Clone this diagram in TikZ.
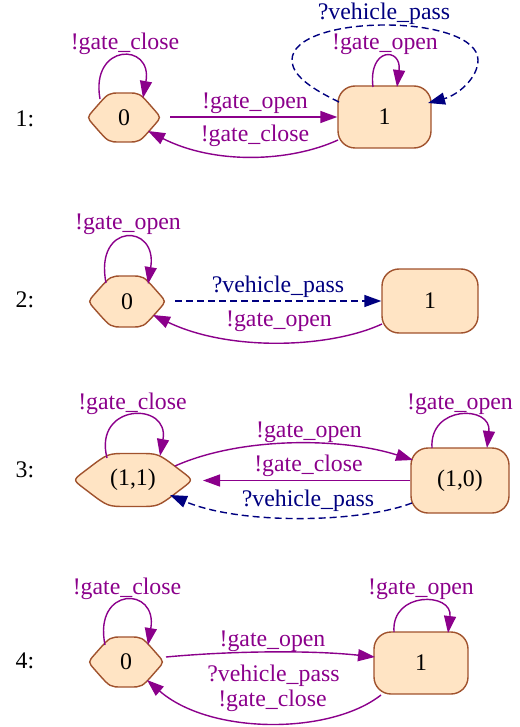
\documentclass[tikz,border=0pt]{standalone}
\usepackage{fontspec}
\setmainfont{Liberation Serif}
\usetikzlibrary{arrows.meta,calc}
\definecolor{epurple}{RGB}{139,0,139}
\definecolor{enavy}{RGB}{0,0,128}
\definecolor{sfill}{RGB}{255,228,196}
\definecolor{sline}{RGB}{160,82,45}
\tikzset{
  every node/.style={font=\fontsize{23.8}{28}\selectfont},
  lbl/.style={inner sep=0pt, anchor=center},
  plbl/.style={lbl, text=epurple},
  nlbl/.style={lbl, text=enavy},
  pe/.style={draw=epurple, line width=1.4pt, -{Triangle[length=17pt,width=12pt]}},
  ne/.style={draw=enavy, line width=1.4pt, dash pattern=on 7pt off 4pt, -{Triangle[length=17pt,width=12pt]}},
  hexfill/.style={fill=sfill, draw=sline, line width=1.4pt},
  boxstate/.style={rectangle, rounded corners=17pt, fill=sfill, draw=sline, line width=1.4pt, inner sep=0pt},
  hexname/.style={rectangle, inner sep=0pt}
}
% #1 name, #2 x, #3 y, #4 half width, #5 half height, #6 text
\newcommand\hexstate[6]{%
  \filldraw[hexfill] (#2,#3-#5) -- (#2+0.1*#4,#3-#5)
    .. controls (#2+0.42*#4,#3-#5) .. (#2+0.739*#4,#3-0.45*#5)
    -- (#2+0.826*#4,#3-0.3*#5) .. controls (#2+#4,#3) .. (#2+0.826*#4,#3+0.3*#5)
    -- (#2+0.739*#4,#3+0.45*#5) .. controls (#2+0.42*#4,#3+#5) .. (#2+0.1*#4,#3+#5)
    -- (#2-0.1*#4,#3+#5) .. controls (#2-0.42*#4,#3+#5) .. (#2-0.739*#4,#3+0.45*#5)
    -- (#2-0.826*#4,#3+0.3*#5) .. controls (#2-#4,#3) .. (#2-0.826*#4,#3-0.3*#5)
    -- (#2-0.739*#4,#3-0.45*#5) .. controls (#2-0.42*#4,#3-#5) .. (#2-0.1*#4,#3-#5)
    -- cycle;
  \node[hexname, minimum width=2*#4, minimum height=2*#5] (#1) at (#2,#3) {#6};}
\begin{document}
\begin{tikzpicture}[x=1pt,y=-1pt]
\useasboundingbox (0,0) rectangle (519,727);
% row labels
\node[lbl] (r1) at (25,119) {1:};
\node[lbl] (r2) at (25,300) {2:};
\node[lbl] (r3) at (25,470) {3:};
\node[lbl] (r4) at (25,661) {4:};
% ---------- panel 1
\hexstate{a0}{124}{117.5}{37}{24.5}{0}
\node[boxstate, minimum width=93, minimum height=62] (b1) at (384.5,117) {1};
\draw[pe] ($(a0)+(-24,-18.5)$) .. controls +(-10,-56) and +(10,-56) .. ($(a0)+(19,-19.5)$);
\draw[pe] ($(a0)+(46,-0.5)$) -- (b1.west);
\draw[pe] ($(b1)+(-46.5,23)$) .. controls +(-48,22) and +(67,34) .. ($(a0)+(24,13.5)$);
\draw[pe] ($(b1)+(-11.5,-30)$) .. controls +(-5,-40) and +(5,-40) .. ($(b1)+(12.5,-30)$);
\draw[ne] ($(b1)+(-45.5,-15)$) .. controls (310,88) and (292,75) .. (292,60)
   .. controls (292,38) and (335,25) .. (385,25)
   .. controls (435,25) and (478,38) .. (478,60)
   .. controls (478,78) and (458,95) .. ($(b1)+(43.5,-14)$);
\node[plbl] (l1a) at (125,44) {!gate\_close};
\node[plbl] (l1b) at (255,103) {!gate\_open};
\node[plbl] (l1c) at (255,136) {!gate\_close};
\node[plbl] (l1d) at (385,44) {!gate\_open};
\node[nlbl] (l1e) at (384,14) {?vehicle\_pass};
% ---------- panel 2
\hexstate{c0}{127}{301.5}{39}{25.5}{0}
\node[boxstate, minimum width=96, minimum height=64] (c1) at (430,301) {1};
\draw[pe] ($(c0)+(-21,-18.5)$) .. controls +(-12,-61) and +(10,-61) .. ($(c0)+(21,-17.5)$);
\draw[ne] ($(c0)+(48,-0.5)$) -- (c1.west);
\draw[pe] ($(c1)+(-48,23)$) .. controls +(-52,24) and +(77,37) .. ($(c0)+(26,13.5)$);
\node[plbl] (l2a) at (128,224) {!gate\_open};
\node[nlbl] (l2b) at (278,287) {?vehicle\_pass};
\node[plbl] (l2c) at (279,321) {!gate\_open};
% ---------- panel 3
\hexstate{d0}{133}{480}{60}{26.5}{(1,1)}
\node[boxstate, minimum width=98, minimum height=65] (d1) at (460,480.5) {(1,0)};
\draw[pe] ($(d0)+(-26,-22)$) .. controls +(-14,-55) and +(10,-55) .. ($(d0)+(27,-24)$);
\draw[pe] ($(d1)+(-28,-32.5)$) .. controls +(-3,-43) and +(5,-43) .. ($(d1)+(27,-32.5)$);
\draw[pe] ($(d0)+(42,-14)$) .. controls +(65,-29) and +(-73,-23) .. ($(d1)+(-47,-20.5)$);
\draw[pe] (d1.west) -- ($(d0)+(70,0.5)$);
\draw[ne] ($(d1)+(-48,22.5)$) .. controls +(-52,20) and +(70,30) .. ($(d0)+(37,15)$);
\node[plbl] (l3a) at (132.5,404) {!gate\_close};
\node[plbl] (l3b) at (460,404) {!gate\_open};
\node[plbl] (l3c) at (309,432) {!gate\_open};
\node[plbl] (l3d) at (308.5,466) {!gate\_close};
\node[nlbl] (l3e) at (308,501) {?vehicle\_pass};
% ---------- panel 4
\hexstate{e0}{126}{662}{38}{25}{0}
\node[boxstate, minimum width=94, minimum height=62] (e1) at (421,663) {1};
\draw[pe] ($(e0)+(-21,-17)$) .. controls +(-12,-59) and +(10,-59) .. ($(e0)+(22,-17)$);
\draw[pe] ($(e1)+(-27,-31)$) .. controls +(-3,-41) and +(5,-41) .. ($(e1)+(27,-30)$);
\draw[pe] ($(e0)+(40,-5)$) .. controls +(64,-6) and +(-65,-7) .. ($(e1)+(-46,-6)$);
\draw[pe] ($(e1)+(-40,32)$) .. controls +(-51,40) and +(63,55) .. ($(e0)+(21,18)$);
\node[plbl] (l4a) at (127,589) {!gate\_close};
\node[plbl] (l4b) at (421,589) {!gate\_open};
\node[plbl] (l4c) at (272.5,641) {!gate\_open};
\node[plbl] (l4d) at (273.5,676) {?vehicle\_pass};
\node[plbl] (l4e) at (272.5,701) {!gate\_close};
\end{tikzpicture}
\end{document}
